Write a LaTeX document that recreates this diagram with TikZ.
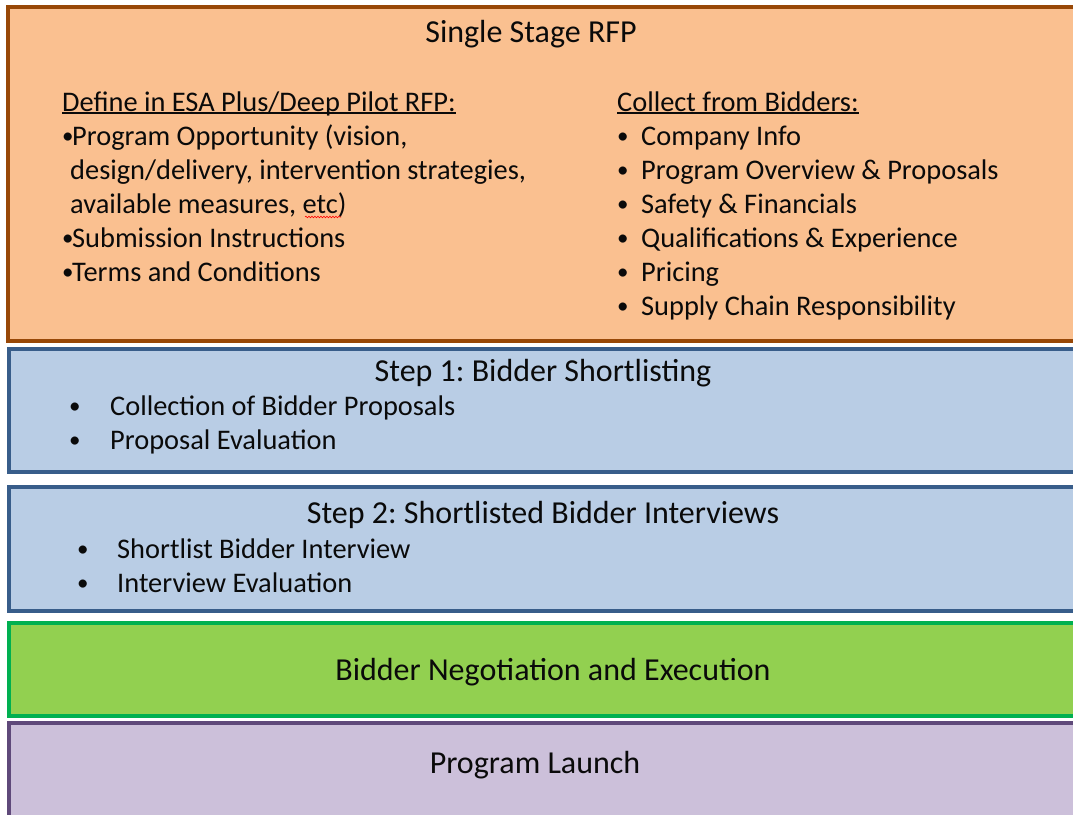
\documentclass[tikz,border=0pt]{standalone}
\usepackage{fontspec}
\setmainfont{Carlito}
\usetikzlibrary{decorations.pathmorphing}
\definecolor{orfill}{HTML}{FAC090}
\definecolor{ordraw}{HTML}{984807}
\definecolor{blfill}{HTML}{B9CDE5}
\definecolor{bldraw}{HTML}{385D8A}
\definecolor{grfill}{HTML}{92D050}
\definecolor{grdraw}{HTML}{00B050}
\definecolor{pufill}{HTML}{CCC0DA}
\definecolor{pudraw}{HTML}{5F497A}
\definecolor{txt}{HTML}{0A0A0A}
\newcommand{\bul}[1]{\makebox[#1][l]{\raisebox{1.2pt}{\fontsize{23}{34}\selectfont •}}}
\frenchspacing
\begin{document}
\begin{tikzpicture}[x=1pt,y=-1pt,
  panel/.style={draw, line width=3.2pt, inner sep=0pt, outer sep=0pt, anchor=north west, minimum width=1080pt},
  ttl/.style={font=\fontsize{32}{39}\selectfont, text=txt, anchor=base, inner sep=0pt},
  body/.style={font=\fontsize{28.4}{34}\selectfont, text=txt, anchor=base west, inner sep=0pt},
  uline/.style={line width=1.2pt, txt},
]
\useasboundingbox (0,0) rectangle (1073,814);
\clip (0,0) rectangle (1073,814);
% panels
\node[panel, fill=orfill, draw=ordraw, minimum height=334pt] (rfp) at (8,7) {};
\node[panel, fill=blfill, draw=bldraw, minimum height=123pt] (s1) at (9,349) {};
\node[panel, fill=blfill, draw=bldraw, minimum height=124pt] (s2) at (9,487) {};
\node[panel, fill=grfill, draw=grdraw, minimum height=93pt] (neg) at (9,623) {};
\node[panel, fill=pufill, draw=pudraw, minimum height=120pt] (launch) at (9,723) {};
% single stage RFP
\node[ttl] (t0) at (531,42) {Single Stage RFP};
\node[body] (h1) at (62,111) {Define in ESA Plus/Deep Pilot RFP:};
\draw[uline] ([yshift=-2pt]h1.base west) -- ([yshift=-2pt]h1.base east);
\node[body] (l1) at (62,145) {\bul{10pt}Program Opportunity (vision,};
\node[body] (l2) at (70,179) {design/delivery, intervention strategies,};
\node[body] (l3) at (70,213) {available measures, etc)};
\node[body] (l4) at (62,247) {\bul{10pt}Submission Instructions};
\node[body] (l5) at (62,281) {\bul{10pt}Terms and Conditions};
\draw[red, line width=0.6pt, decorate, decoration={snake, amplitude=0.8pt, segment length=3pt}] (305,217) -- (341,217);
\node[body] (h2) at (617,111) {Collect from Bidders:};
\draw[uline] ([yshift=-2pt]h2.base west) -- ([yshift=-2pt]h2.base east);
\node[body] (r1) at (617,145) {\bul{24pt}Company Info};
\node[body] (r2) at (617,179) {\bul{24pt}Program Overview \& Proposals};
\node[body] (r3) at (617,213) {\bul{24pt}Safety \& Financials};
\node[body] (r4) at (617,247) {\bul{24pt}Qualifications \& Experience};
\node[body] (r5) at (617,281) {\bul{24pt}Pricing};
\node[body] (r6) at (617,315) {\bul{24pt}Supply Chain Responsibility};
% step 1
\node[ttl] (t1) at (543,381) {Step 1: Bidder Shortlisting};
\node[body] (a1) at (69,415) {\bul{41pt}Collection of Bidder Proposals};
\node[body] (a2) at (69,449) {\bul{41pt}Proposal Evaluation};
% step 2
\node[ttl] (t2) at (543,523) {Step 2: Shortlisted Bidder Interviews};
\node[body] (b1) at (77,558) {\bul{40pt}Shortlist Bidder Interview};
\node[body] (b2) at (77,592) {\bul{40pt}Interview Evaluation};
% negotiation and launch
\node[ttl] (t3) at (553,680) {Bidder Negotiation and Execution};
\node[ttl] (t4) at (535,773) {Program Launch};
\end{tikzpicture}
\end{document}
